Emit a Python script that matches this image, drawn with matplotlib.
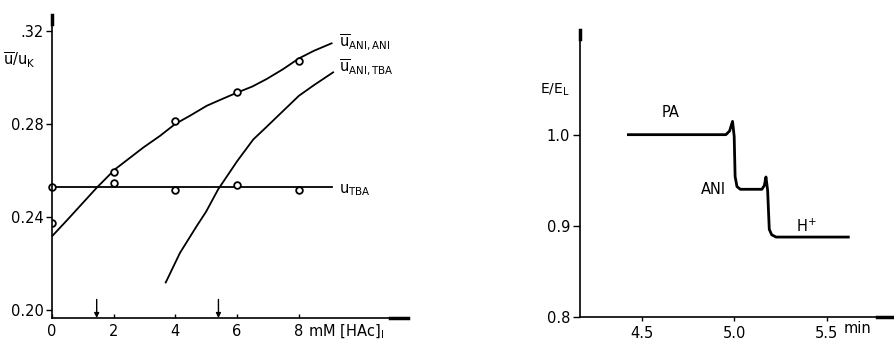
import numpy as np
import matplotlib
matplotlib.use("Agg")
import matplotlib.pyplot as plt

plt.rcParams['font.family'] = ['DejaVu Sans']
plt.rcParams['mathtext.fontset'] = 'dejavusans'

# left panel: mobility ratios vs acetic acid concentration
conc_pts = [0, 2, 4, 6, 8]
ani_ani_pts = [0.2376, 0.2594, 0.2812, 0.2937, 0.3074]
tba_pts = [0.2529, 0.2545, 0.2516, 0.2539, 0.2516]

ani_ani_x = [0.0, 0.5, 1.45, 2.04, 2.96, 3.5, 3.99, 4.5, 5.02, 5.5, 6.01, 6.5,
             6.96, 7.5, 8.01, 8.5, 9.07]
ani_ani_y = [0.2317, 0.2388, 0.2526, 0.2605, 0.2699, 0.2749, 0.2800, 0.2838,
             0.2879, 0.2907, 0.2936, 0.2962, 0.2994, 0.3037, 0.3083, 0.3116, 0.3148]
ani_tba_x = [3.69, 4.15, 4.69, 5.0, 5.39, 6.01, 6.53, 6.96, 7.5, 8.01, 8.5, 9.12]
ani_tba_y = [0.2118, 0.2245, 0.2360, 0.2423, 0.2519, 0.2641, 0.2734, 0.2788,
             0.2857, 0.2922, 0.2968, 0.3023]
tba_x = [0.0, 9.08]
tba_y = [0.2529, 0.2529]
marks_x = [1.45, 5.4]

# right panel: isotachophoretic step signal
t = [4.427, 4.955, 4.975, 4.991, 5.0, 5.005, 5.015, 5.033, 5.15, 5.163, 5.172,
     5.181, 5.19, 5.203, 5.227, 5.618]
e = [1.0, 1.0, 1.004, 1.0146, 0.998, 0.954, 0.943, 0.940, 0.940, 0.944, 0.9535,
     0.939, 0.896, 0.890, 0.8875, 0.8875]

fig = plt.figure(figsize=(8.94, 3.44), dpi=100)
ax1 = fig.add_axes([52/894, 26/344, 356/894, 303/344])
ax2 = fig.add_axes([580/894, 27.3/344, 313/894, 286.7/344])

fs = 10.5

# ---- left
ax1.plot(ani_ani_x, ani_ani_y, color='black', lw=1.3)
ax1.plot(ani_tba_x, ani_tba_y, color='black', lw=1.3)
ax1.plot(tba_x, tba_y, color='black', lw=1.3)
ax1.plot(conc_pts, ani_ani_pts, 'o', mfc='white', mec='black', ms=4.8, mew=1.3)
ax1.plot(conc_pts, tba_pts, 'o', mfc='white', mec='black', ms=4.8, mew=1.3, clip_on=False)
for mx in marks_x:
    ax1.annotate('', xy=(mx, 0.1965), xytext=(mx, 0.2045),
                 arrowprops=dict(arrowstyle='-|>', color='black', lw=1.0,
                                 mutation_scale=7, shrinkA=0, shrinkB=0))

ax1.set_xlim(0, 11.55)
ax1.set_ylim(0.1965, 0.327)
ax1.set_yticks([0.20, 0.24, 0.28, 0.32])
ax1.set_yticklabels(['0.20', '0.24', '0.28', '.32'], fontsize=fs)
ax1.set_xticks([0, 2, 4, 6, 8])
ax1.set_xticklabels(['0', '2', '4', '6', '8'], fontsize=fs)
ax1.tick_params(axis='y', direction='out', length=4, width=1, pad=2)
ax1.tick_params(axis='x', direction='in', length=3, width=1, pad=4)
ax1.text(8.3, -0.015, r'mM $[\mathrm{HAc}]_{\mathrm{I}}$', transform=ax1.get_xaxis_transform(),
         ha='left', va='top', fontsize=fs)
ax1.text(9.3, 0.3155, r'$\overline{\mathrm{u}}_{\mathrm{ANI,ANI}}$', fontsize=fs, va='center')
ax1.text(9.3, 0.3045, r'$\overline{\mathrm{u}}_{\mathrm{ANI,TBA}}$', fontsize=fs, va='center')
ax1.text(9.3, 0.2515, r'$\mathrm{u}_{\mathrm{TBA}}$', fontsize=fs, va='center')
fig.text(3/894, 1 - 60/344, r'$\overline{\mathrm{u}}/\mathrm{u}_{\mathrm{K}}$', fontsize=fs,
         va='center', ha='left')

# ---- right
ax2.plot(t, e, color='black', lw=2.0)
ax2.set_xlim(4.165, 5.86)
ax2.set_ylim(0.8, 1.115)
ax2.set_yticks([0.8, 0.9, 1.0])
ax2.set_yticklabels(['0.8', '0.9', '1.0'], fontsize=fs)
ax2.set_xticks([4.5, 5.0, 5.5])
ax2.set_xticklabels(['4.5', '5.0', '5.5'], fontsize=fs)
ax2.tick_params(axis='y', direction='out', length=5, width=1, pad=2)
ax2.tick_params(axis='x', direction='out', length=3, width=1, pad=4)
ax2.text(5.59, -0.015, 'min', transform=ax2.get_xaxis_transform(),
         ha='left', va='top', fontsize=fs)
ax2.text(4.655, 1.016, 'PA', fontsize=fs, ha='center', va='bottom')
ax2.text(4.89, 0.9396, 'ANI', fontsize=fs, ha='center', va='center')
ax2.text(5.39, 0.899, r'H$^{+}$', fontsize=fs, ha='center', va='center')
fig.text(555/894, 1 - 90/344, r'E/E$_{\mathrm{L}}$', fontsize=fs - 0.5, ha='center', va='center')

for ax in (ax1, ax2):
    for s in ('top', 'right'):
        ax.spines[s].set_visible(False)
    ax.spines['left'].set_linewidth(1.2)
    ax.spines['bottom'].set_linewidth(1.2)
    ax.patch.set_visible(False)
    # thick axis ends
    ax.plot([0, 0], [0.97, 1.0], transform=ax.transAxes, color='black', lw=2.5, clip_on=False)
    ax.plot([0.95, 1.0], [0, 0], transform=ax.transAxes, color='black', lw=2.5, clip_on=False)

fig.savefig('out.png', dpi=100)
